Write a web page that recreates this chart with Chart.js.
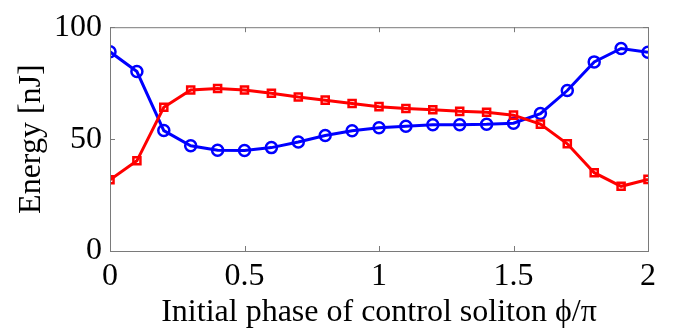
<!DOCTYPE html>
<html>
<head>
<meta charset="utf-8">
<script src="https://cdn.jsdelivr.net/npm/chart.js@4/dist/chart.umd.min.js"></script>
<style>
  html, body { margin: 0; padding: 0; background: #fff; }
  #wrap { width: 677px; height: 332px; }
</style>
</head>
<body>
<div id="wrap"><canvas id="chart"></canvas></div>
<script>
// phase phi/pi
const fase = [0, 0.1, 0.2, 0.3, 0.4, 0.5, 0.6, 0.7, 0.8, 0.9, 1.0,
              1.1, 1.2, 1.3, 1.4, 1.5, 1.6, 1.7, 1.8, 1.9, 2.0];
// energy [nJ]
const azul = [89.0, 80.2, 53.8, 47.0, 45.0, 44.9, 46.2, 48.7, 51.6, 53.7, 55.1,
              55.7, 56.4, 56.4, 56.6, 57.1, 61.4, 71.7, 84.5, 90.5, 88.8];
const rojo = [31.8, 40.3, 64.2, 71.9, 72.6, 71.9, 70.5, 68.8, 67.4, 65.9, 64.5,
              63.7, 63.1, 62.4, 62.0, 60.7, 56.7, 47.9, 35.0, 28.9, 32.0];
const ticksX = [0, 0.5, 1, 1.5, 2];
const ticksY = [0, 50, 100];

const fuente = { family: '"Liberation Serif", "Times New Roman", serif', size: 32 };
const gris = '#7a7a7a';

// caja tipo matlab con ticks hacia adentro
const caja = {
  id: 'caja',
  afterDraw(chart) {
    const { ctx, chartArea: a, scales: { x, y } } = chart;
    ctx.save();
    ctx.strokeStyle = gris;
    ctx.lineWidth = 1;
    ctx.strokeRect(a.left + 0.5, a.top + 0.5, a.right - a.left, a.bottom - a.top);
    ctx.beginPath();
    ticksX.forEach(v => {
      const px = Math.round(x.getPixelForValue(v)) + 0.5;
      ctx.moveTo(px, a.bottom); ctx.lineTo(px, a.bottom - 5);
      ctx.moveTo(px, a.top); ctx.lineTo(px, a.top + 5);
    });
    ticksY.forEach(v => {
      const py = Math.round(y.getPixelForValue(v)) + 0.5;
      ctx.moveTo(a.left, py); ctx.lineTo(a.left + 5, py);
      ctx.moveTo(a.right, py); ctx.lineTo(a.right - 5, py);
    });
    ctx.stroke();
    ctx.restore();
  }
};

new Chart(document.getElementById('chart'), {
  type: 'line',
  data: {
    datasets: [
      { data: fase.map((f, i) => ({ x: f, y: azul[i] })), borderColor: '#0000ff',
        backgroundColor: 'rgba(0,0,0,0)', borderWidth: 3, pointStyle: 'circle',
        pointRadius: 5.5, pointBorderWidth: 2.5, pointBorderColor: '#0000ff', order: 1 },
      { data: fase.map((f, i) => ({ x: f, y: rojo[i] })), borderColor: '#ff0000',
        backgroundColor: 'rgba(0,0,0,0)', borderWidth: 3, pointStyle: 'rect',
        pointRadius: 5, pointBorderWidth: 2.5, pointBorderColor: '#ff0000', order: 0 }
    ]
  },
  options: {
    responsive: true,
    maintainAspectRatio: false,
    animation: false,
    layout: { padding: { top: 18, right: 29, left: 0, bottom: 0 } },
    plugins: { legend: { display: false }, tooltip: { enabled: false } },
    scales: {
      x: {
        type: 'linear', min: 0, max: 2,
        afterBuildTicks: s => { s.ticks = ticksX.map(v => ({ value: v })); },
        afterFit: s => { s.height = 81; },
        grid: { display: false, drawTicks: false },
        border: { display: false },
        ticks: { color: '#000', font: fuente, padding: 6, maxRotation: 0,
                 callback: v => String(v) },
        title: { display: true, text: 'Initial phase of control soliton ϕ/π', color: '#000',
                 font: fuente, padding: { top: 0, bottom: 0 } }
      },
      y: {
        min: 0, max: 100,
        afterBuildTicks: s => { s.ticks = ticksY.map(v => ({ value: v })); },
        afterFit: s => { s.width = 110; },
        grid: { display: false, drawTicks: false },
        border: { display: false },
        ticks: { color: '#000', font: fuente, padding: 8 },
        title: { display: true, text: 'Energy [nJ]', color: '#000', font: fuente,
                 padding: { top: 12, bottom: 0 } }
      }
    }
  },
  plugins: [caja]
});
</script>
</body>
</html>
